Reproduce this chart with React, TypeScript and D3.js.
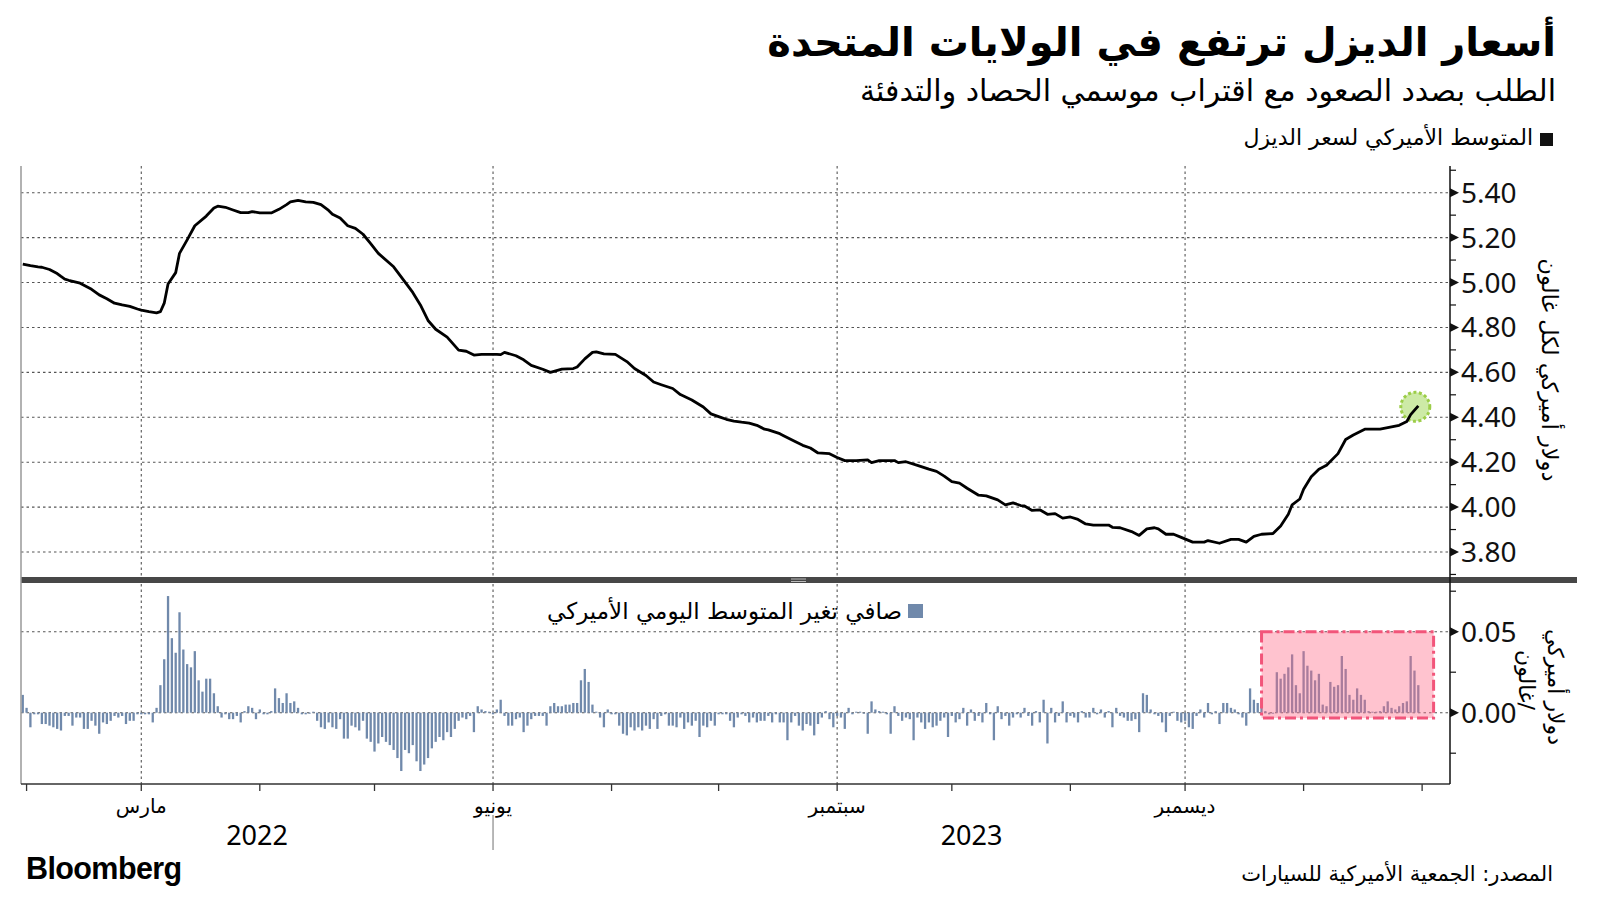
import React from "react";
import * as d3 from "d3";

// ---- data ----
// day offsets from 2022-08-31 and the AAA average diesel price, $/gal
const priceLine: [number, number][] = [
  [0, 5.082], [2, 5.075], [4, 5.07], [5, 5.068], [7, 5.058], [9, 5.04], [10, 5.027], [11, 5.015],
  [12, 5.01], [15, 4.997], [18, 4.97], [20, 4.945], [22, 4.928], [24, 4.908], [26, 4.9], [28, 4.894],
  [30, 4.882], [31, 4.877], [33, 4.87], [35, 4.865], [36, 4.87], [37, 4.908], [38, 4.993], [40, 5.044],
  [41, 5.13], [43, 5.19], [45, 5.253], [48, 5.296], [50, 5.332], [51, 5.34], [53, 5.335], [55, 5.323],
  [57, 5.311], [59, 5.311], [60, 5.316], [62, 5.31], [65, 5.31], [67, 5.326], [69, 5.347], [70, 5.359],
  [72, 5.366], [74, 5.359], [76, 5.357], [78, 5.347], [80, 5.321], [81, 5.304], [83, 5.287], [85, 5.253],
  [87, 5.241], [89, 5.215], [91, 5.173], [93, 5.13], [97, 5.07], [100, 5.002], [102, 4.956], [104, 4.9],
  [106, 4.831], [108, 4.792], [111, 4.757], [114, 4.699], [116, 4.694], [118, 4.677], [120, 4.68],
  [124, 4.68], [125, 4.679], [126, 4.689], [129, 4.674], [131, 4.656], [133, 4.631], [136, 4.614],
  [138, 4.6], [141, 4.614], [144, 4.617], [145, 4.624], [147, 4.66], [149, 4.689], [150, 4.691],
  [152, 4.682], [155, 4.68], [158, 4.648], [160, 4.617], [163, 4.586], [165, 4.557], [167, 4.545],
  [170, 4.528], [172, 4.501], [175, 4.477], [178, 4.446], [180, 4.415], [182, 4.403], [184, 4.391],
  [186, 4.383], [188, 4.378], [190, 4.374], [192, 4.364], [194, 4.347], [195, 4.344], [198, 4.327],
  [199, 4.318], [202, 4.292], [204, 4.275], [206, 4.263], [208, 4.241], [211, 4.238], [213, 4.221],
  [215, 4.207], [218, 4.207], [221, 4.21], [222, 4.198], [224, 4.207], [228, 4.207], [229, 4.198],
  [231, 4.202], [234, 4.186], [237, 4.169], [239, 4.159], [241, 4.138], [243, 4.113], [245, 4.107],
  [247, 4.084], [250, 4.053], [252, 4.05], [255, 4.032], [257, 4.01], [259, 4.019], [261, 4.007],
  [262, 4.005], [264, 3.985], [266, 3.988], [268, 3.968], [270, 3.971], [272, 3.951], [274, 3.956],
  [276, 3.945], [278, 3.925], [280, 3.92], [284, 3.92], [285, 3.91], [287, 3.908], [290, 3.891],
  [292, 3.874], [294, 3.903], [296, 3.908], [297, 3.903], [299, 3.879], [301, 3.879], [303, 3.865],
  [306, 3.844], [309, 3.844], [310, 3.851], [313, 3.839], [316, 3.856], [318, 3.856], [320, 3.844],
  [322, 3.87], [324, 3.879], [327, 3.882], [329, 3.916], [331, 3.968], [332, 4.01], [334, 4.036],
  [335, 4.079], [337, 4.135], [339, 4.169], [341, 4.186], [344, 4.238], [346, 4.301], [348, 4.321],
  [351, 4.347], [355, 4.347], [358, 4.357], [360, 4.364], [362, 4.381], [363, 4.412], [365, 4.451],
];

// daily net change, cents, one per day from 2022-08-31
const dailyChangeCents: number[] = [
  1.1, 0.3, -0.9, -0.1, -0.1, -0.7, -0.7, -0.8, -0.9, -1.0,
  -1.1, -0.2, -0.2, -0.8, -0.3, -0.3, -1.0, -1.0, -0.5, -0.8,
  -1.3, -0.6, -0.7, -0.5, -0.2, -0.3, -0.2, -0.7, -0.5, -0.5,
  -0.1, -0.1, -0.1, -0.1, -0.6, 0.3, 1.7, 3.3, 7.2, 4.6,
  3.7, 6.2, 3.9, 3.0, 2.8, 3.8, 2.0, 1.3, 2.1, 2.1,
  1.2, 0.4, -0.3, -0.1, -0.4, -0.4, -0.2, -0.6, 0.1, 0.4,
  0.3, -0.4, 0.2, -0.1, -0.1, 0.1, 1.5, 0.9, 0.6, 1.2,
  0.6, 0.7, 0.3, -0.1, -0.1, -0.05, 0, -0.5, -0.9, -1.0,
  -0.6, -0.9, -1.0, -0.4, -1.6, -1.6, -0.8, -0.9, -1.1, -0.5,
  -1.6, -1.8, -2.4, -1.9,
  -1.5, -1.8, -2.0, -2.3, -2.8, -3.6, -2.3, -2.5, -2.0, -3.0,
  -3.6, -3.2, -2.8, -2.2, -1.8, -1.5, -1.7, -1.2, -1.5, -1.0,
  -0.5, -0.3, -0.4, -0.2, -1.2, 0.4, 0.2, 0.1, 0, -0.1,
  0.2, 0.8, -0.2, -0.8, -0.8, -0.4, -0.3, -1.2, -0.8, -0.4,
  -0.2, -0.2, -0.2, -0.8, 0.4, 0.6, 0.4, 0.4, 0.5, 0.5,
  0.6, 0.6, 2.0, 2.7, 1.9, 0.5, 0, -0.3, -0.9, 0.2,
  -0.1, -0.1, -0.8, -1.3, -1.4, -0.9, -1.1, -0.9, -1.1, -0.8,
  -1.0, -0.4, -1.0, -0.2, -0.1, -0.8, -0.8, -0.9, -0.3, -1.0,
  -0.6, -0.8, -0.5, -1.5, -0.8, -0.9, -0.5, -0.8, -0.1, -0.1,
  -0.1, -0.5, -0.9, -0.3,
  -0.1, -0.2, -0.6, -0.3, -0.6, -0.5, -0.5, -0.2, -0.6, -0.1,
  -0.6, -0.6, -1.7, -0.6, -0.2, -0.8, -1.1, -0.7, -0.8, -1.4,
  -0.7, -0.3, 0.1, -0.4, -0.9, -0.2, -0.3, -1.0, 0.3, -0.1,
  0, 0, -0.05, -1.3, 0.7, 0.2, 0.1, 0, -0.1, -1.3,
  0.4, -0.2, -0.5, -0.3, -0.4, -1.7, -0.3, -0.6, -1.0, -0.6,
  -0.9, -0.8, -0.5, -0.3, -1.5, -0.2, -0.6, -0.4, 0.3, -0.8,
  0.2, -0.5, -0.2, -0.6, 0.6, -0.1, -1.7, 0.4, -0.4, -0.2,
  -0.8, -0.3, -0.1, -0.3, 0.3, -0.2, -0.8, 0.1, -0.6, 0.8,
  -1.9, 0.3, -0.6, -0.2, 0.7, -0.6, -0.2, -0.3, -0.6, 0.1,
  -0.3, -0.3, 0.3, -0.1,
  0.2, -0.3, 0.1, -0.9, 0.3, -0.2, -0.3, -0.5, -0.5, -0.4,
  -1.2, 1.2, 1.1, 0.2, -0.1, -0.2, -0.6, -1.2, -0.2, 0,
  -0.5, -0.6, -0.5, -0.9, -1.0, -0.2, 0.2, -0.3, 0.6, -0.1,
  0.1, -0.7, 0.6, 0.6, 0.3, 0.2, -0.1, -0.3, -0.8, 1.5,
  0.8, 0.6, 0.4, 0.1, -0.1, -0.05, 2.5, 2.1, 2.4, 2.8,
  3.6, 1.7, 1.2, 3.8, 2.9, 2.6, 2.0, 2.4, 0.5, 0.4,
  1.9, 1.6, 1.7, 3.5, 2.7, 1.1, 0.8, 1.5, 1.1, 0.8,
  0.1, 0.05, 0.05, 0.1, 0.4, 0.7, 0.3, 0.2, 0.4, 0.6,
  0.7, 3.5, 2.6, 1.7,
];

const priceTicks = [3.8, 4.0, 4.2, 4.4, 4.6, 4.8, 5.0, 5.2, 5.4];
const changeTicks = [0, 0.05];
const monthLabels = ["مارس", "يونيو", "سبتمبر", "ديسمبر"];
const monthLabelDates = ["2022-10-01", "2023-01-01", "2023-04-01", "2023-07-01"];
const yearLabels = ["2022", "2023"];
// highlighted stretch in the lower panel (day offsets)
const highlightDays = [324, 369];

const title = "أسعار الديزل ترتفع في الولايات المتحدة";
const subtitle = "الطلب بصدد الصعود مع اقتراب موسمي الحصاد والتدفئة";
const priceLegend = "المتوسط الأميركي لسعر الديزل";
const changeLegend = "صافي تغير المتوسط اليومي الأميركي";
const priceUnit = "دولار أميركي لكل غالون";
const changeUnit = ["دولار أميركي", "/غالون"];
const source = "المصدر: الجمعية الأميركية للسيارات";

const AR = "'DejaVu Sans', sans-serif";
const NUM = "'Noto Sans', sans-serif";

const start = new Date(2022, 7, 31).getTime();
const dayDate = (d: number) => new Date(start + d * 86400000);
const parseDay = d3.timeParse("%Y-%m-%d");

export default function App() {
  const left = 21, right = 1450;
  const topY = 166, sepY = 577, bottomY = 784;

  const x = d3.scaleTime()
    .domain([new Date(2022, 7, 30, 13), new Date(2023, 8, 8, 7)])
    .range([left, right]);
  const yP = d3.scaleLinear().domain([3.8, 5.4]).range([552, 192.7]);
  const yC = d3.scaleLinear().domain([0, 0.05]).range([712.7, 631.7]);

  const line = d3.line<[number, number]>()
    .x(p => x(dayDate(p[0])))
    .y(p => yP(p[1]));

  const fmt = d3.format(".2f");
  const months = d3.timeMonth.range(new Date(2022, 8, 1), new Date(2023, 8, 2));
  const labelled = monthLabelDates.map(s => x(parseDay(s) as Date));
  const minorP = d3.range(3.7, 5.56, 0.1);
  const minorC = d3.range(-0.025, 0.08, 0.025);

  const last = priceLine[priceLine.length - 1];
  const hx0 = x(dayDate(highlightDays[0]));
  const hx1 = x(dayDate(highlightDays[1]));

  const yearBoundary = x(new Date(2023, 0, 1));
  const yearCenters = [(left + yearBoundary) / 2, (yearBoundary + right) / 2];

  const arrow = (yy: number) => `M${right},${yy - 4.5}L${right + 9},${yy}L${right},${yy + 4.5}Z`;

  return (
    <svg width={1600} height={901} style={{ position: "absolute", left: 0, top: 0, background: "#fff" }}>
      {/* header */}
      <text x={1556} y={56} fontFamily={AR} fontWeight="bold" fontSize={40} style={{ direction: "rtl" }} textAnchor="start">{title}</text>
      <text x={1556} y={101} fontFamily={AR} fontSize={30} style={{ direction: "rtl" }} textAnchor="start">{subtitle}</text>
      <rect x={1540} y={133} width={13} height={13} fill="#111" />
      <text x={1533} y={145} fontFamily={AR} fontSize={22} style={{ direction: "rtl" }} textAnchor="start">{priceLegend}</text>

      {/* horizontal gridlines */}
      {priceTicks.map(t => (
        <line key={"gp" + t} x1={left} x2={right} y1={yP(t)} y2={yP(t)} stroke="#555" strokeWidth={1.1} strokeDasharray="2.5,3" />
      ))}
      {changeTicks.map(t => (
        <line key={"gc" + t} x1={left} x2={right} y1={yC(t)} y2={yC(t)} stroke="#555" strokeWidth={1.1} strokeDasharray="2.5,3" />
      ))}
      {/* vertical gridlines */}
      {labelled.map((lx, i) => (
        <line key={"gv" + i} x1={lx} x2={lx} y1={topY} y2={bottomY} stroke="#555" strokeWidth={1.1} strokeDasharray="2.5,3" />
      ))}

      {/* bars */}
      {dailyChangeCents.map((c, i) => {
        const v = c / 100;
        const bx = x(dayDate(i));
        const y0 = yC(0), y1 = yC(v);
        const h = Math.max(Math.abs(y1 - y0), 1);
        return <rect key={"b" + i} x={bx - 1.15} width={2.3} y={v >= 0 ? y0 - h : y0} height={h} fill="#7089ab" />;
      })}

      {/* highlight box */}
      <rect x={hx0} y={yC(0.05)} width={hx1 - hx0} height={yC(-0.0033) - yC(0.05)}
        fill="rgb(255,105,135)" fillOpacity={0.4} stroke="#f2557a" strokeWidth={3} strokeDasharray="11,4,3,4" />

      {/* lower legend */}
      <rect x={908} y={604} width={15} height={14} fill="#7089ab" />
      <text x={902} y={619} fontFamily={AR} fontSize={23} style={{ direction: "rtl" }} textAnchor="start">{changeLegend}</text>

      {/* end marker + price line */}
      <circle cx={x(dayDate(last[0])) - 3} cy={yP(last[1]) + 1} r={14.5} fill="#cdeaa6" stroke="#9ccd48" strokeWidth={3} strokeDasharray="3,2.5" />
      <path d={line(priceLine) || ""} fill="none" stroke="#000" strokeWidth={2.8} strokeLinejoin="round" />

      {/* panel separator */}
      <rect x={left} y={sepY} width={1577 - left} height={6} fill="#474747" />
      <line x1={791} x2={806} y1={579} y2={579} stroke="#bbb" strokeWidth={1} />
      <line x1={791} x2={806} y1={581.5} y2={581.5} stroke="#bbb" strokeWidth={1} />

      {/* frame */}
      <line x1={left} x2={left} y1={topY} y2={bottomY} stroke="#999" strokeWidth={1.5} />
      <line x1={left} x2={right} y1={bottomY} y2={bottomY} stroke="#333" strokeWidth={1.5} />
      <line x1={right} x2={right} y1={topY} y2={bottomY} stroke="#111" strokeWidth={1.5} />

      {/* right axis ticks */}
      {minorP.map((t, i) => (
        <line key={"mp" + i} x1={right} x2={right + 6} y1={yP(t)} y2={yP(t)} stroke="#111" strokeWidth={1.2} />
      ))}
      {minorC.map((t, i) => (
        <line key={"mc" + i} x1={right} x2={right + 6} y1={yC(t)} y2={yC(t)} stroke="#111" strokeWidth={1.2} />
      ))}
      {priceTicks.map(t => <path key={"ap" + t} d={arrow(yP(t))} fill="#111" />)}
      {changeTicks.map(t => <path key={"ac" + t} d={arrow(yC(t))} fill="#111" />)}
      {priceTicks.map(t => (
        <text key={"lp" + t} x={right + 11} y={yP(t) + 10} fontFamily={NUM} fontSize={28} fill="#111">{fmt(t)}</text>
      ))}
      {changeTicks.map(t => (
        <text key={"lc" + t} x={right + 11} y={yC(t) + 10} fontFamily={NUM} fontSize={28} fill="#111">{fmt(t)}</text>
      ))}

      {/* axis titles */}
      <text transform={`translate(1550,370) rotate(90)`} textAnchor="middle" dominantBaseline="central"
        fontFamily={AR} fontSize={22.5} style={{ direction: "rtl" }}>{priceUnit}</text>
      <text transform={`translate(1555,687) rotate(90)`} textAnchor="middle" dominantBaseline="central"
        fontFamily={AR} fontSize={22} style={{ direction: "rtl" }}>{changeUnit[0]}</text>
      <text transform={`translate(1526,680) rotate(90)`} textAnchor="middle" dominantBaseline="central"
        fontFamily={AR} fontSize={22} style={{ direction: "rtl" }}>{changeUnit[1]}</text>

      {/* x axis */}
      {months.map((m, i) => (
        <line key={"xt" + i} x1={x(m)} x2={x(m)} y1={bottomY} y2={bottomY + 7} stroke="#333" strokeWidth={1.3} />
      ))}
      {monthLabels.map((lab, i) => (
        <text key={"ml" + i} x={labelled[i]} y={813} textAnchor="middle" fontFamily={AR} fontSize={20}>{lab}</text>
      ))}
      {yearLabels.map((yl, i) => (
        <text key={"yl" + i} x={yearCenters[i]} y={845} textAnchor="middle" fontFamily={NUM} fontSize={27}>{yl}</text>
      ))}
      <line x1={yearBoundary} x2={yearBoundary} y1={815} y2={850} stroke="#888" strokeWidth={1.2} />

      {/* footer */}
      <text x={26} y={879} fontFamily="'Liberation Sans', Arial, sans-serif" fontWeight="bold" fontSize={30.5} letterSpacing={-0.6}>Bloomberg</text>
      <text x={1553} y={881} fontFamily={AR} fontSize={21} style={{ direction: "rtl" }} textAnchor="start">{source}</text>
    </svg>
  );
}
